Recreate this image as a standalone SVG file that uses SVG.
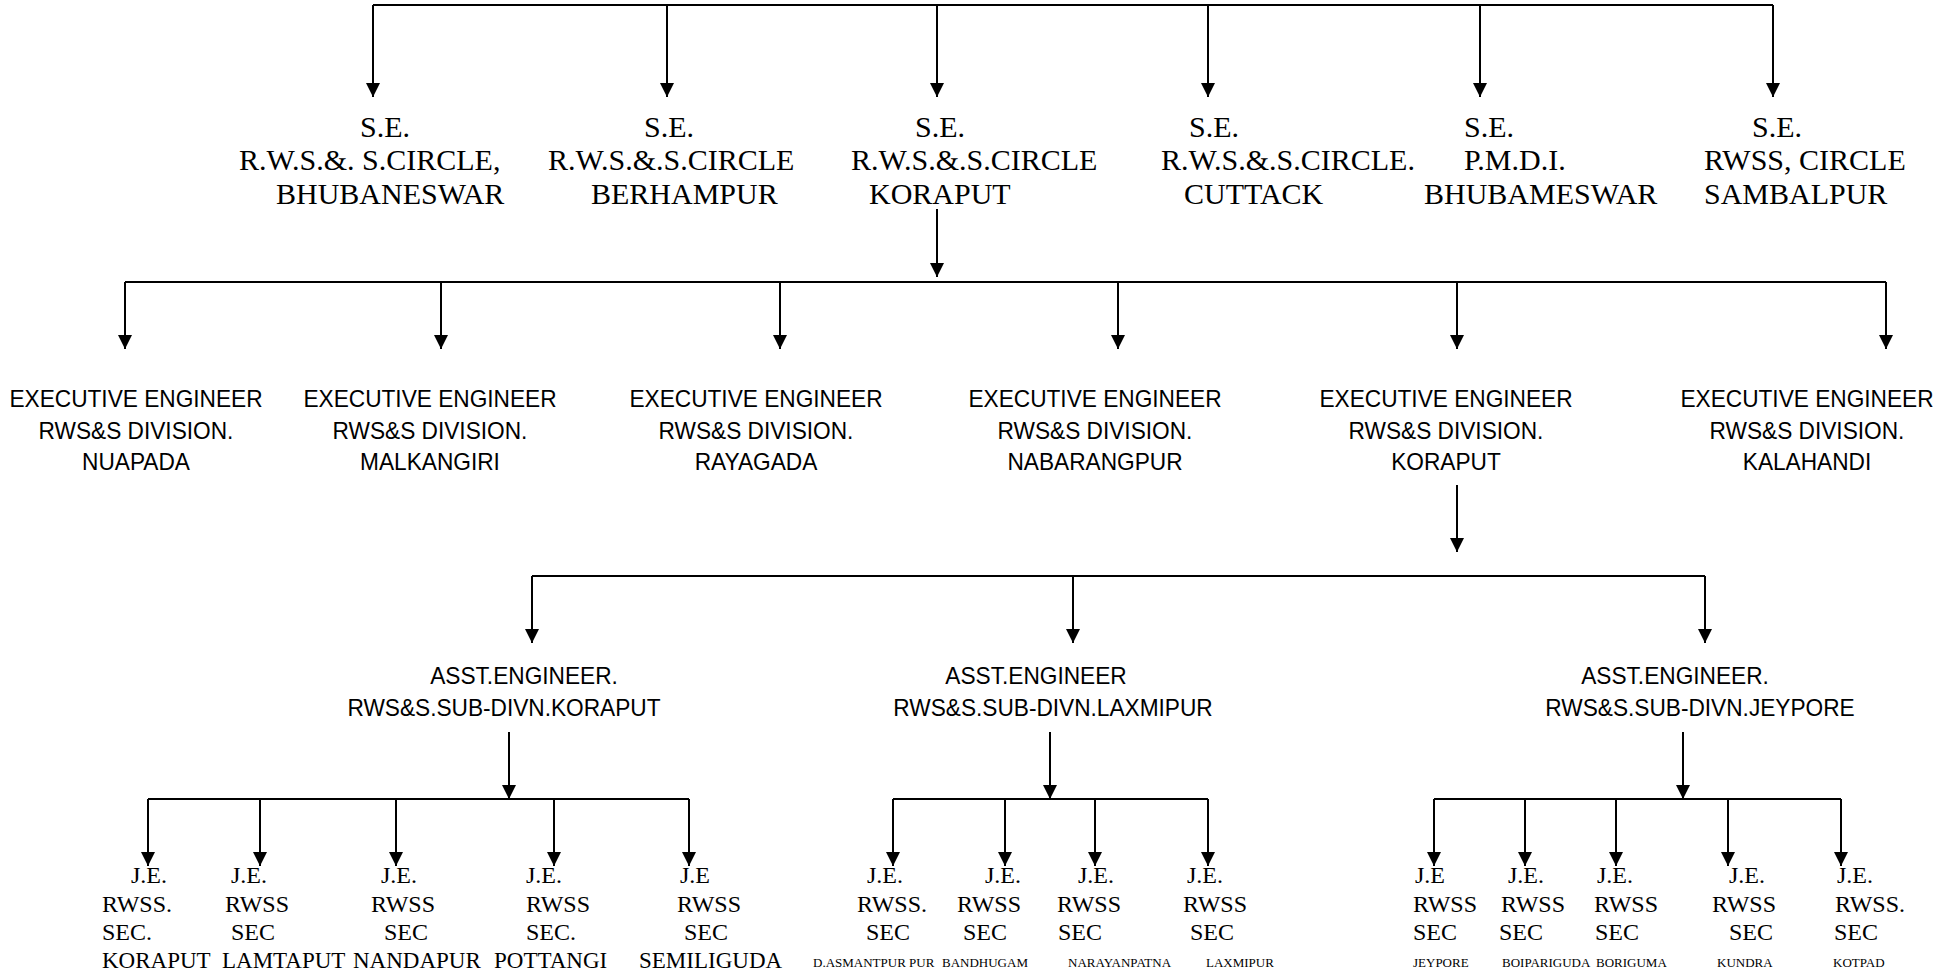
<svg xmlns="http://www.w3.org/2000/svg" width="1958" height="973" viewBox="0 0 1958 973">
<style>
.se{font-family:"Liberation Serif","Times New Roman",serif;font-size:30px;fill:#000}
.je{font-family:"Liberation Serif","Times New Roman",serif;font-size:24px;fill:#000}
.pl{font-size:23px}
.sm{font-family:"Liberation Serif","Times New Roman",serif;font-size:13px;fill:#000}
.ee{font-family:"Liberation Sans",Arial,sans-serif;font-size:24px;fill:#000;text-anchor:middle}
.ln{stroke:#000;stroke-width:2;fill:none}
.ar{stroke:#000;stroke-width:2;fill:none;marker-end:url(#ah)}
</style>
<defs>
<marker id="ah" markerUnits="userSpaceOnUse" markerWidth="14" markerHeight="14" viewBox="0 0 14 14" refX="14" refY="7" orient="auto">
<path d="M0,0 L14,7 L0,14 z" fill="#000"/>
</marker>
</defs>
<rect width="1958" height="973" fill="#fff"/>
<g id="connectors">
<path class="ln" d="M373,5 H1773"/>
<path class="ar" d="M373,5 V97"/>
<path class="ar" d="M667,5 V97"/>
<path class="ar" d="M937,5 V97"/>
<path class="ar" d="M1208,5 V97"/>
<path class="ar" d="M1480,5 V97"/>
<path class="ar" d="M1773,5 V97"/>
<path class="ar" d="M937,209 V277"/>
<path class="ln" d="M125,282 H1886"/>
<path class="ar" d="M125,282 V349"/>
<path class="ar" d="M441,282 V349"/>
<path class="ar" d="M780,282 V349"/>
<path class="ar" d="M1118,282 V349"/>
<path class="ar" d="M1457,282 V349"/>
<path class="ar" d="M1886,282 V349"/>
<path class="ar" d="M1457,485 V552"/>
<path class="ln" d="M532,576 H1705"/>
<path class="ar" d="M532,576 V643"/>
<path class="ar" d="M1073,576 V643"/>
<path class="ar" d="M1705,576 V643"/>
<path class="ar" d="M509,732 V799"/>
<path class="ar" d="M1050,732 V799"/>
<path class="ar" d="M1683,732 V799"/>
<path class="ln" d="M148,799 H689"/>
<path class="ar" d="M148,799 V866"/>
<path class="ar" d="M260,799 V866"/>
<path class="ar" d="M396,799 V866"/>
<path class="ar" d="M554,799 V866"/>
<path class="ar" d="M689,799 V866"/>
<path class="ln" d="M893,799 H1208"/>
<path class="ar" d="M893,799 V866"/>
<path class="ar" d="M1005,799 V866"/>
<path class="ar" d="M1095,799 V866"/>
<path class="ar" d="M1208,799 V866"/>
<path class="ln" d="M1434,799 H1841"/>
<path class="ar" d="M1434,799 V866"/>
<path class="ar" d="M1525,799 V866"/>
<path class="ar" d="M1616,799 V866"/>
<path class="ar" d="M1728,799 V866"/>
<path class="ar" d="M1841,799 V866"/>
</g>
<g id="se-bhubaneswar" class="se">
<text x="360" y="137">S.E.</text>
<text x="239" y="170">R.W.S.&amp;. S.CIRCLE,</text>
<text x="276" y="204">BHUBANESWAR</text>
</g>
<g id="se-berhampur" class="se">
<text x="644" y="137">S.E.</text>
<text x="548" y="170">R.W.S.&amp;.S.CIRCLE</text>
<text x="591" y="204">BERHAMPUR</text>
</g>
<g id="se-koraput" class="se">
<text x="915" y="137">S.E.</text>
<text x="851" y="170">R.W.S.&amp;.S.CIRCLE</text>
<text x="869" y="204">KORAPUT</text>
</g>
<g id="se-cuttack" class="se">
<text x="1189" y="137">S.E.</text>
<text x="1161" y="170">R.W.S.&amp;.S.CIRCLE.</text>
<text x="1184" y="204">CUTTACK</text>
</g>
<g id="se-pmdi" class="se">
<text x="1464" y="137">S.E.</text>
<text x="1464" y="170">P.M.D.I.</text>
<text x="1424" y="204">BHUBAMESWAR</text>
</g>
<g id="se-sambalpur" class="se">
<text x="1752" y="137">S.E.</text>
<text x="1704" y="170">RWSS, CIRCLE</text>
<text x="1704" y="204">SAMBALPUR</text>
</g>
<g id="ee-nuapada" class="ee">
<text transform="translate(136 407) scale(0.945 1)">EXECUTIVE ENGINEER</text>
<text transform="translate(136 439) scale(0.945 1)">RWS&amp;S DIVISION.</text>
<text transform="translate(136 470) scale(0.945 1)">NUAPADA</text>
</g>
<g id="ee-malkangiri" class="ee">
<text transform="translate(430 407) scale(0.945 1)">EXECUTIVE ENGINEER</text>
<text transform="translate(430 439) scale(0.945 1)">RWS&amp;S DIVISION.</text>
<text transform="translate(430 470) scale(0.945 1)">MALKANGIRI</text>
</g>
<g id="ee-rayagada" class="ee">
<text transform="translate(756 407) scale(0.945 1)">EXECUTIVE ENGINEER</text>
<text transform="translate(756 439) scale(0.945 1)">RWS&amp;S DIVISION.</text>
<text transform="translate(756 470) scale(0.945 1)">RAYAGADA</text>
</g>
<g id="ee-nabarangpur" class="ee">
<text transform="translate(1095 407) scale(0.945 1)">EXECUTIVE ENGINEER</text>
<text transform="translate(1095 439) scale(0.945 1)">RWS&amp;S DIVISION.</text>
<text transform="translate(1095 470) scale(0.945 1)">NABARANGPUR</text>
</g>
<g id="ee-koraput" class="ee">
<text transform="translate(1446 407) scale(0.945 1)">EXECUTIVE ENGINEER</text>
<text transform="translate(1446 439) scale(0.945 1)">RWS&amp;S DIVISION.</text>
<text transform="translate(1446 470) scale(0.945 1)">KORAPUT</text>
</g>
<g id="ee-kalahandi" class="ee">
<text transform="translate(1807 407) scale(0.945 1)">EXECUTIVE ENGINEER</text>
<text transform="translate(1807 439) scale(0.945 1)">RWS&amp;S DIVISION.</text>
<text transform="translate(1807 470) scale(0.945 1)">KALAHANDI</text>
</g>
<g id="ae-koraput" class="ee">
<text transform="translate(524 684) scale(0.945 1)">ASST.ENGINEER.</text>
<text transform="translate(504 716) scale(0.945 1)">RWS&amp;S.SUB-DIVN.KORAPUT</text>
</g>
<g id="ae-laxmipur" class="ee">
<text transform="translate(1036 684) scale(0.945 1)">ASST.ENGINEER</text>
<text transform="translate(1053 716) scale(0.945 1)">RWS&amp;S.SUB-DIVN.LAXMIPUR</text>
</g>
<g id="ae-jeypore" class="ee">
<text transform="translate(1675 684) scale(0.945 1)">ASST.ENGINEER.</text>
<text transform="translate(1700 716) scale(0.945 1)">RWS&amp;S.SUB-DIVN.JEYPORE</text>
</g>
<g id="je-koraput" class="je">
<text x="131" y="883">J.E.</text><text x="102" y="912">RWSS.</text><text x="102" y="940">SEC.</text><text class="pl" x="102" y="968">KORAPUT</text>
</g>
<g id="je-lamtaput" class="je">
<text x="231" y="883">J.E.</text><text x="225" y="912">RWSS</text><text x="231" y="940">SEC</text><text class="pl" x="222" y="968">LAMTAPUT</text>
</g>
<g id="je-nandapur" class="je">
<text x="381" y="883">J.E.</text><text x="371" y="912">RWSS</text><text x="384" y="940">SEC</text><text class="pl" x="353" y="968">NANDAPUR</text>
</g>
<g id="je-pottangi" class="je">
<text x="526" y="883">J.E.</text><text x="526" y="912">RWSS</text><text x="526" y="940">SEC.</text><text class="pl" x="494" y="968">POTTANGI</text>
</g>
<g id="je-semiliguda" class="je">
<text x="680" y="883">J.E</text><text x="677" y="912">RWSS</text><text x="684" y="940">SEC</text><text class="pl" x="639" y="968">SEMILIGUDA</text>
</g>
<g id="je-dasmantpur" class="je">
<text x="867" y="883">J.E.</text><text x="857" y="912">RWSS.</text><text x="866" y="940">SEC</text><text class="sm" x="813" y="967">D.ASMANTPUR PUR</text>
</g>
<g id="je-bandhugam" class="je">
<text x="985" y="883">J.E.</text><text x="957" y="912">RWSS</text><text x="963" y="940">SEC</text><text class="sm" x="942" y="967">BANDHUGAM</text>
</g>
<g id="je-narayanpatna" class="je">
<text x="1078" y="883">J.E.</text><text x="1057" y="912">RWSS</text><text x="1058" y="940">SEC</text><text class="sm" x="1068" y="967">NARAYANPATNA</text>
</g>
<g id="je-laxmipur" class="je">
<text x="1187" y="883">J.E.</text><text x="1183" y="912">RWSS</text><text x="1190" y="940">SEC</text><text class="sm" x="1206" y="967">LAXMIPUR</text>
</g>
<g id="je-jeypore" class="je">
<text x="1415" y="883">J.E</text><text x="1413" y="912">RWSS</text><text x="1413" y="940">SEC</text><text class="sm" x="1413" y="967">JEYPORE</text>
</g>
<g id="je-boipariguda" class="je">
<text x="1508" y="883">J.E.</text><text x="1501" y="912">RWSS</text><text x="1499" y="940">SEC</text><text class="sm" x="1502" y="967">BOIPARIGUDA</text>
</g>
<g id="je-boriguma" class="je">
<text x="1597" y="883">J.E.</text><text x="1594" y="912">RWSS</text><text x="1595" y="940">SEC</text><text class="sm" x="1596" y="967">BORIGUMA</text>
</g>
<g id="je-kundra" class="je">
<text x="1729" y="883">J.E.</text><text x="1712" y="912">RWSS</text><text x="1729" y="940">SEC</text><text class="sm" x="1717" y="967">KUNDRA</text>
</g>
<g id="je-kotpad" class="je">
<text x="1837" y="883">J.E.</text><text x="1835" y="912">RWSS.</text><text x="1834" y="940">SEC</text><text class="sm" x="1833" y="967">KOTPAD</text>
</g>
</svg>
